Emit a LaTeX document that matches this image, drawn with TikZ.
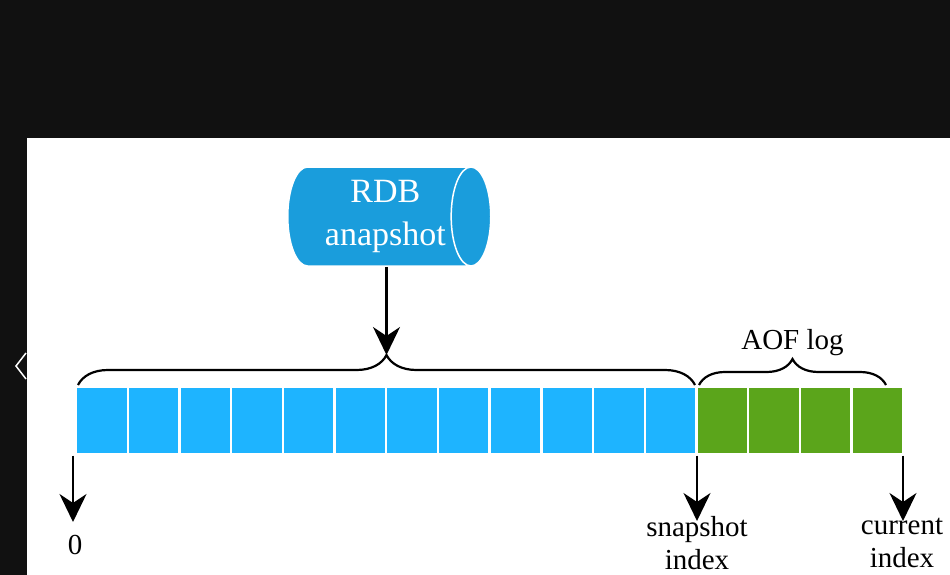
\documentclass[tikz,border=0pt]{standalone}
\usepackage{fontspec}
\setmainfont{Liberation Serif}
\usepackage{tikz}
\usetikzlibrary{shapes.geometric, positioning, arrows.meta, decorations.pathreplacing}
\definecolor{darkbg}{HTML}{111111}
\definecolor{rdbcyl}{HTML}{1A9DDC}
\definecolor{rdbblue}{HTML}{1EB4FF}
\definecolor{aofgreen}{HTML}{5BA51B}
\tikzset{
x=1pt, y=-1pt, % one unit is one pixel of the screenshot
arrowline/.style={-{Stealth[length=28pt,width=27pt,inset=9pt]}, line width=2.2pt}, % the down arrows
cell/.style={draw=white, line width=2.4pt, minimum width=51.7pt, minimum height=68pt, inner sep=0pt}, % one log entry
rdbcell/.style={cell, fill=rdbblue},
aofcell/.style={cell, fill=aofgreen},
brace/.style={decorate, decoration={brace, amplitude=#1}, line width=2.2pt}, % curly braces over the entries
idxlabel/.style={font=\fontsize{29}{33}\selectfont, align=center, inner sep=0pt},
}

\begin{document}
\begin{tikzpicture}
% screenshot frame
\fill[darkbg] (0,0) rectangle (950,575);
\useasboundingbox (0,0) rectangle (950,575);
\fill[white] (27,138) rectangle (950,575);
\draw[white, line width=1.5pt] (26,353) -- (16,366) -- (26,379);

% log entries
\foreach \i in {0,...,11}
  \node[rdbcell] (b\i) at ({76+51.7*(\i+0.5)},420.5) {};
\foreach \i in {0,...,3}
  \node[aofcell] (g\i) at ({76+51.7*(\i+12.5)},420.5) {};

% snapshot
\node[cylinder, draw=white, line width=1.5pt, fill=rdbcyl, text=white, shape aspect=0.5,
  minimum width=99pt, minimum height=203pt, align=center, anchor=west,
  font=\fontsize{34}{43}\selectfont] (rdb) at (287,216.5)
  {\hspace*{20pt}RDB\\\hspace*{20pt}anapshot};

% braces
\coordinate (rdbL) at (78,385);
\coordinate (rdbR) at (695,385);
\coordinate (aofL) at (699,385);
\coordinate (aofR) at (886,385);
\draw[brace=30pt] (rdbL) -- (rdbR) coordinate[midway, yshift=30pt] (rdbTip);
\draw[brace=26pt] (aofL) -- (aofR) coordinate[midway, yshift=26pt] (aofTip);
\node[font=\fontsize{29}{33}\selectfont, above=0pt of aofTip] (aof) {AOF log};
\draw[arrowline] (rdbTip |- rdb.south) -- (rdbTip);

% indexes
\node[idxlabel] (zero) at (75,545) {0};
\node[idxlabel] (snap) at (697,543) {snapshot\\index};
\node[idxlabel] (curr) at (902,543) {current\\index};
\coordinate (zeroTip) at (73,522);
\coordinate (snapTip) at (697,521);
\coordinate (currTip) at (903,521);
\draw[arrowline] (zeroTip |- b0.south) -- (zeroTip);
\draw[arrowline] (snapTip |- g0.south) -- (snapTip);
\draw[arrowline] (currTip |- g3.south) -- (currTip);
\end{tikzpicture}
\end{document}
